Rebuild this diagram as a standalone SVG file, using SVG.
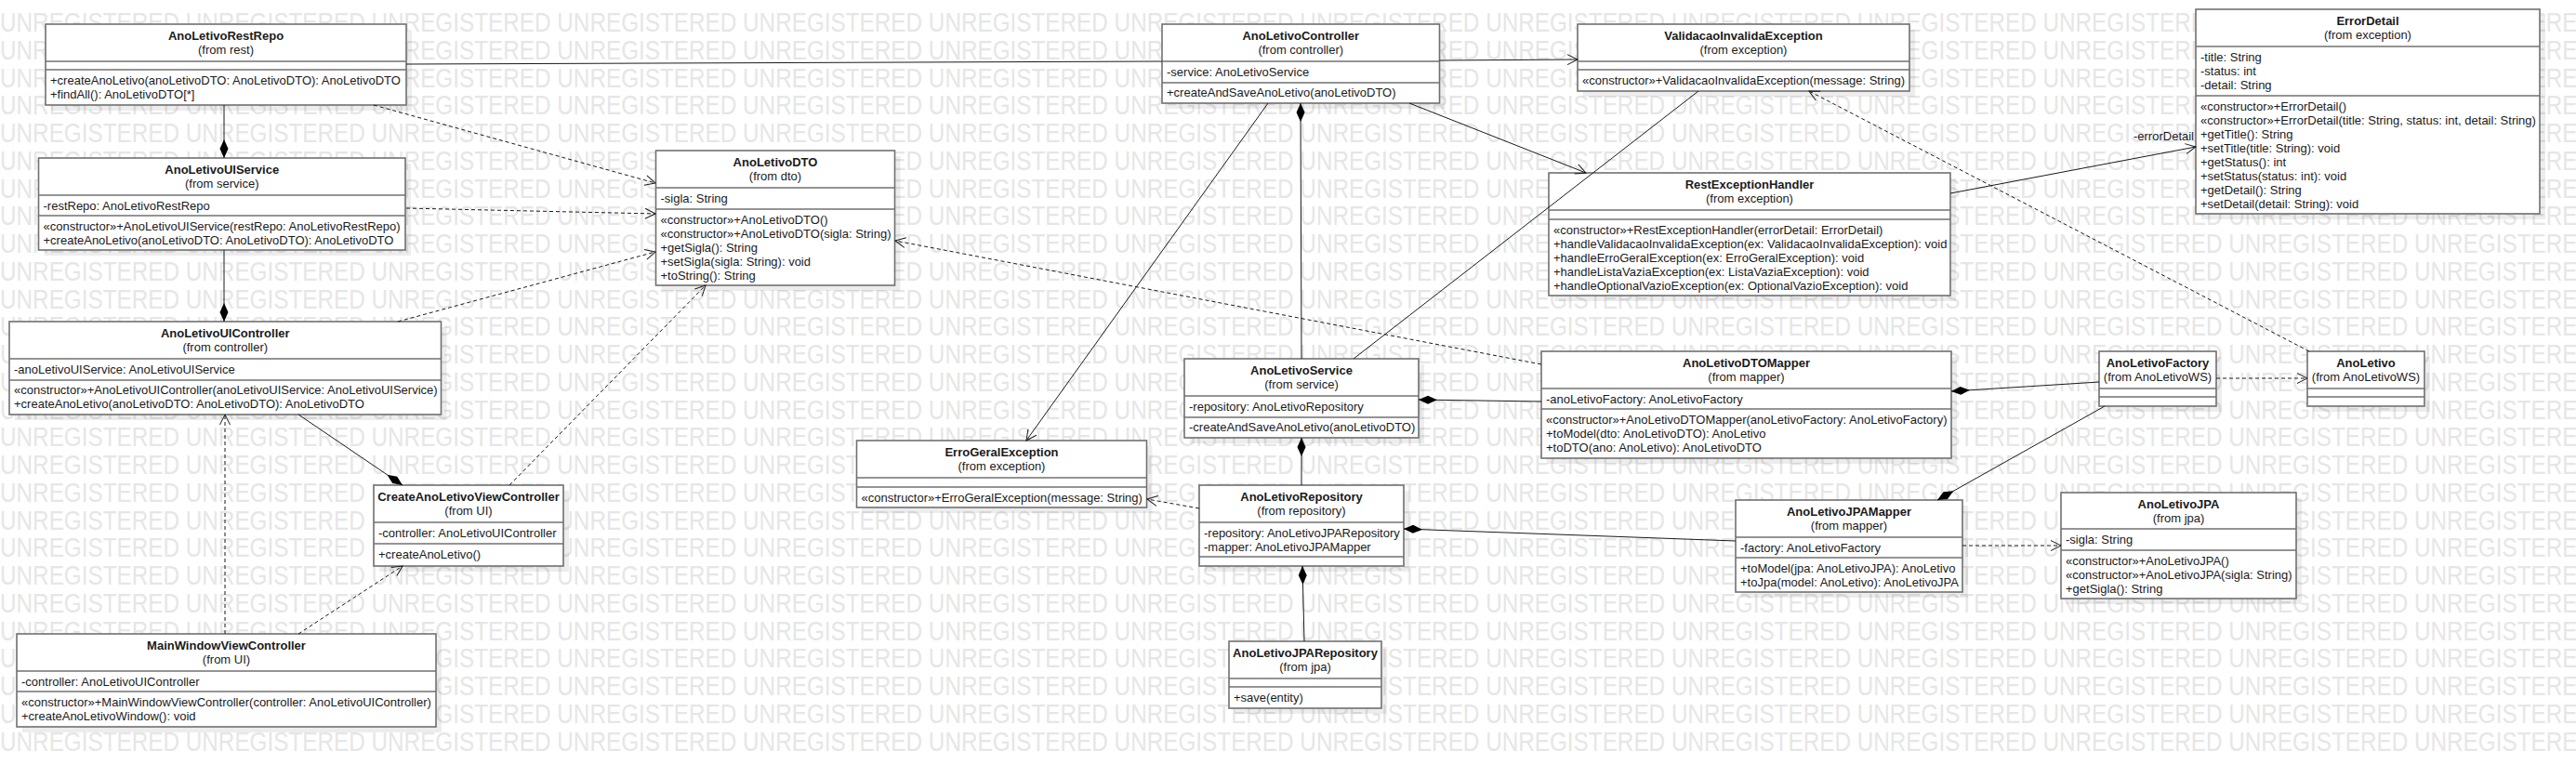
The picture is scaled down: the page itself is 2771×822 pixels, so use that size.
<svg xmlns="http://www.w3.org/2000/svg" width="2771" height="822" viewBox="0 0 2771 822">
<style>
.bg{fill:#ffffff}
.wm{font-family:"Liberation Sans",Arial,sans-serif;font-size:29px;fill:#e6e6e6}
.sh{fill:#000000;opacity:0.07}
.box{fill:#ffffff;stroke:#707070;stroke-width:1.6}
.sep{stroke:#707070;stroke-width:1.6}
.t{font-family:"Liberation Sans",Arial,sans-serif;font-size:13px;fill:#1a1a1a}
.b{font-weight:bold}
.c{text-anchor:middle}
.e{text-anchor:end}
.ln{fill:none;stroke:#1a1a1a;stroke-width:1}
.dash{stroke-dasharray:4 3}
</style>
<defs>
<marker id="arr" markerUnits="userSpaceOnUse" markerWidth="14" markerHeight="14" refX="12" refY="7" orient="auto" overflow="visible"><path d="M1,1.5 L12,7 L1,12.5" fill="none" stroke="#1a1a1a" stroke-width="1"/></marker>
<marker id="dia" markerUnits="userSpaceOnUse" markerWidth="22" markerHeight="12" refX="0" refY="5" orient="auto" overflow="visible"><path d="M0,5 L10,0.5 L20,5 L10,9.5 Z" fill="#000000"/></marker>
</defs>
<rect class="bg" x="0" y="0" width="2771" height="822"/>
<g id="watermark">
<text class="wm" x="0" y="34" textLength="2790" lengthAdjust="spacingAndGlyphs">UNREGISTERED UNREGISTERED UNREGISTERED UNREGISTERED UNREGISTERED UNREGISTERED UNREGISTERED UNREGISTERED UNREGISTERED UNREGISTERED UNREGISTERED UNREGISTERED UNREGISTERED UNREGISTERED</text>
<text class="wm" x="0" y="63.75" textLength="2790" lengthAdjust="spacingAndGlyphs">UNREGISTERED UNREGISTERED UNREGISTERED UNREGISTERED UNREGISTERED UNREGISTERED UNREGISTERED UNREGISTERED UNREGISTERED UNREGISTERED UNREGISTERED UNREGISTERED UNREGISTERED UNREGISTERED</text>
<text class="wm" x="0" y="93.5" textLength="2790" lengthAdjust="spacingAndGlyphs">UNREGISTERED UNREGISTERED UNREGISTERED UNREGISTERED UNREGISTERED UNREGISTERED UNREGISTERED UNREGISTERED UNREGISTERED UNREGISTERED UNREGISTERED UNREGISTERED UNREGISTERED UNREGISTERED</text>
<text class="wm" x="0" y="123.25" textLength="2790" lengthAdjust="spacingAndGlyphs">UNREGISTERED UNREGISTERED UNREGISTERED UNREGISTERED UNREGISTERED UNREGISTERED UNREGISTERED UNREGISTERED UNREGISTERED UNREGISTERED UNREGISTERED UNREGISTERED UNREGISTERED UNREGISTERED</text>
<text class="wm" x="0" y="153" textLength="2790" lengthAdjust="spacingAndGlyphs">UNREGISTERED UNREGISTERED UNREGISTERED UNREGISTERED UNREGISTERED UNREGISTERED UNREGISTERED UNREGISTERED UNREGISTERED UNREGISTERED UNREGISTERED UNREGISTERED UNREGISTERED UNREGISTERED</text>
<text class="wm" x="0" y="182.75" textLength="2790" lengthAdjust="spacingAndGlyphs">UNREGISTERED UNREGISTERED UNREGISTERED UNREGISTERED UNREGISTERED UNREGISTERED UNREGISTERED UNREGISTERED UNREGISTERED UNREGISTERED UNREGISTERED UNREGISTERED UNREGISTERED UNREGISTERED</text>
<text class="wm" x="0" y="212.5" textLength="2790" lengthAdjust="spacingAndGlyphs">UNREGISTERED UNREGISTERED UNREGISTERED UNREGISTERED UNREGISTERED UNREGISTERED UNREGISTERED UNREGISTERED UNREGISTERED UNREGISTERED UNREGISTERED UNREGISTERED UNREGISTERED UNREGISTERED</text>
<text class="wm" x="0" y="242.25" textLength="2790" lengthAdjust="spacingAndGlyphs">UNREGISTERED UNREGISTERED UNREGISTERED UNREGISTERED UNREGISTERED UNREGISTERED UNREGISTERED UNREGISTERED UNREGISTERED UNREGISTERED UNREGISTERED UNREGISTERED UNREGISTERED UNREGISTERED</text>
<text class="wm" x="0" y="272" textLength="2790" lengthAdjust="spacingAndGlyphs">UNREGISTERED UNREGISTERED UNREGISTERED UNREGISTERED UNREGISTERED UNREGISTERED UNREGISTERED UNREGISTERED UNREGISTERED UNREGISTERED UNREGISTERED UNREGISTERED UNREGISTERED UNREGISTERED</text>
<text class="wm" x="0" y="301.75" textLength="2790" lengthAdjust="spacingAndGlyphs">UNREGISTERED UNREGISTERED UNREGISTERED UNREGISTERED UNREGISTERED UNREGISTERED UNREGISTERED UNREGISTERED UNREGISTERED UNREGISTERED UNREGISTERED UNREGISTERED UNREGISTERED UNREGISTERED</text>
<text class="wm" x="0" y="331.5" textLength="2790" lengthAdjust="spacingAndGlyphs">UNREGISTERED UNREGISTERED UNREGISTERED UNREGISTERED UNREGISTERED UNREGISTERED UNREGISTERED UNREGISTERED UNREGISTERED UNREGISTERED UNREGISTERED UNREGISTERED UNREGISTERED UNREGISTERED</text>
<text class="wm" x="0" y="361.25" textLength="2790" lengthAdjust="spacingAndGlyphs">UNREGISTERED UNREGISTERED UNREGISTERED UNREGISTERED UNREGISTERED UNREGISTERED UNREGISTERED UNREGISTERED UNREGISTERED UNREGISTERED UNREGISTERED UNREGISTERED UNREGISTERED UNREGISTERED</text>
<text class="wm" x="0" y="391" textLength="2790" lengthAdjust="spacingAndGlyphs">UNREGISTERED UNREGISTERED UNREGISTERED UNREGISTERED UNREGISTERED UNREGISTERED UNREGISTERED UNREGISTERED UNREGISTERED UNREGISTERED UNREGISTERED UNREGISTERED UNREGISTERED UNREGISTERED</text>
<text class="wm" x="0" y="420.75" textLength="2790" lengthAdjust="spacingAndGlyphs">UNREGISTERED UNREGISTERED UNREGISTERED UNREGISTERED UNREGISTERED UNREGISTERED UNREGISTERED UNREGISTERED UNREGISTERED UNREGISTERED UNREGISTERED UNREGISTERED UNREGISTERED UNREGISTERED</text>
<text class="wm" x="0" y="450.5" textLength="2790" lengthAdjust="spacingAndGlyphs">UNREGISTERED UNREGISTERED UNREGISTERED UNREGISTERED UNREGISTERED UNREGISTERED UNREGISTERED UNREGISTERED UNREGISTERED UNREGISTERED UNREGISTERED UNREGISTERED UNREGISTERED UNREGISTERED</text>
<text class="wm" x="0" y="480.25" textLength="2790" lengthAdjust="spacingAndGlyphs">UNREGISTERED UNREGISTERED UNREGISTERED UNREGISTERED UNREGISTERED UNREGISTERED UNREGISTERED UNREGISTERED UNREGISTERED UNREGISTERED UNREGISTERED UNREGISTERED UNREGISTERED UNREGISTERED</text>
<text class="wm" x="0" y="510" textLength="2790" lengthAdjust="spacingAndGlyphs">UNREGISTERED UNREGISTERED UNREGISTERED UNREGISTERED UNREGISTERED UNREGISTERED UNREGISTERED UNREGISTERED UNREGISTERED UNREGISTERED UNREGISTERED UNREGISTERED UNREGISTERED UNREGISTERED</text>
<text class="wm" x="0" y="539.75" textLength="2790" lengthAdjust="spacingAndGlyphs">UNREGISTERED UNREGISTERED UNREGISTERED UNREGISTERED UNREGISTERED UNREGISTERED UNREGISTERED UNREGISTERED UNREGISTERED UNREGISTERED UNREGISTERED UNREGISTERED UNREGISTERED UNREGISTERED</text>
<text class="wm" x="0" y="569.5" textLength="2790" lengthAdjust="spacingAndGlyphs">UNREGISTERED UNREGISTERED UNREGISTERED UNREGISTERED UNREGISTERED UNREGISTERED UNREGISTERED UNREGISTERED UNREGISTERED UNREGISTERED UNREGISTERED UNREGISTERED UNREGISTERED UNREGISTERED</text>
<text class="wm" x="0" y="599.25" textLength="2790" lengthAdjust="spacingAndGlyphs">UNREGISTERED UNREGISTERED UNREGISTERED UNREGISTERED UNREGISTERED UNREGISTERED UNREGISTERED UNREGISTERED UNREGISTERED UNREGISTERED UNREGISTERED UNREGISTERED UNREGISTERED UNREGISTERED</text>
<text class="wm" x="0" y="629" textLength="2790" lengthAdjust="spacingAndGlyphs">UNREGISTERED UNREGISTERED UNREGISTERED UNREGISTERED UNREGISTERED UNREGISTERED UNREGISTERED UNREGISTERED UNREGISTERED UNREGISTERED UNREGISTERED UNREGISTERED UNREGISTERED UNREGISTERED</text>
<text class="wm" x="0" y="658.75" textLength="2790" lengthAdjust="spacingAndGlyphs">UNREGISTERED UNREGISTERED UNREGISTERED UNREGISTERED UNREGISTERED UNREGISTERED UNREGISTERED UNREGISTERED UNREGISTERED UNREGISTERED UNREGISTERED UNREGISTERED UNREGISTERED UNREGISTERED</text>
<text class="wm" x="0" y="688.5" textLength="2790" lengthAdjust="spacingAndGlyphs">UNREGISTERED UNREGISTERED UNREGISTERED UNREGISTERED UNREGISTERED UNREGISTERED UNREGISTERED UNREGISTERED UNREGISTERED UNREGISTERED UNREGISTERED UNREGISTERED UNREGISTERED UNREGISTERED</text>
<text class="wm" x="0" y="718.25" textLength="2790" lengthAdjust="spacingAndGlyphs">UNREGISTERED UNREGISTERED UNREGISTERED UNREGISTERED UNREGISTERED UNREGISTERED UNREGISTERED UNREGISTERED UNREGISTERED UNREGISTERED UNREGISTERED UNREGISTERED UNREGISTERED UNREGISTERED</text>
<text class="wm" x="0" y="748" textLength="2790" lengthAdjust="spacingAndGlyphs">UNREGISTERED UNREGISTERED UNREGISTERED UNREGISTERED UNREGISTERED UNREGISTERED UNREGISTERED UNREGISTERED UNREGISTERED UNREGISTERED UNREGISTERED UNREGISTERED UNREGISTERED UNREGISTERED</text>
<text class="wm" x="0" y="777.75" textLength="2790" lengthAdjust="spacingAndGlyphs">UNREGISTERED UNREGISTERED UNREGISTERED UNREGISTERED UNREGISTERED UNREGISTERED UNREGISTERED UNREGISTERED UNREGISTERED UNREGISTERED UNREGISTERED UNREGISTERED UNREGISTERED UNREGISTERED</text>
<text class="wm" x="0" y="807.5" textLength="2790" lengthAdjust="spacingAndGlyphs">UNREGISTERED UNREGISTERED UNREGISTERED UNREGISTERED UNREGISTERED UNREGISTERED UNREGISTERED UNREGISTERED UNREGISTERED UNREGISTERED UNREGISTERED UNREGISTERED UNREGISTERED UNREGISTERED</text>
</g>

<g id="AnoLetivoRestRepo">
<rect class="sh" x="55" y="32" width="388" height="87"/>
<rect class="box" x="49" y="26" width="388" height="87"/>
<line class="sep" x1="49" y1="66" x2="437" y2="66"/><line class="sep" x1="49" y1="75" x2="437" y2="75"/>
<text class="t b c" x="243" y="43">AnoLetivoRestRepo</text>
<text class="t c" x="243" y="58">(from rest)</text>
<text class="t" x="54" y="91">+createAnoLetivo(anoLetivoDTO: AnoLetivoDTO): AnoLetivoDTO</text>
<text class="t" x="54" y="106">+findAll(): AnoLetivoDTO[*]</text>
</g>

<g id="AnoLetivoUIService">
<rect class="sh" x="47.5" y="176" width="394.5" height="99"/>
<rect class="box" x="41.5" y="170" width="394.5" height="99"/>
<line class="sep" x1="41.5" y1="210" x2="436" y2="210"/><line class="sep" x1="41.5" y1="232" x2="436" y2="232"/>
<text class="t b c" x="238.75" y="187">AnoLetivoUIService</text>
<text class="t c" x="238.75" y="202">(from service)</text>
<text class="t" x="46.5" y="225.5">-restRepo: AnoLetivoRestRepo</text>
<text class="t" x="46.5" y="247.5">«constructor»+AnoLetivoUIService(restRepo: AnoLetivoRestRepo)</text>
<text class="t" x="46.5" y="262.5">+createAnoLetivo(anoLetivoDTO: AnoLetivoDTO): AnoLetivoDTO</text>
</g>

<g id="AnoLetivoUIController">
<rect class="sh" x="16" y="352" width="464.5" height="100"/>
<rect class="box" x="10" y="346" width="464.5" height="100"/>
<line class="sep" x1="10" y1="386" x2="474.5" y2="386"/><line class="sep" x1="10" y1="409" x2="474.5" y2="409"/>
<text class="t b c" x="242.25" y="363">AnoLetivoUIController</text>
<text class="t c" x="242.25" y="378">(from controller)</text>
<text class="t" x="15" y="401.5">-anoLetivoUIService: AnoLetivoUIService</text>
<text class="t" x="15" y="424">«constructor»+AnoLetivoUIController(anoLetivoUIService: AnoLetivoUIService)</text>
<text class="t" x="15" y="439">+createAnoLetivo(anoLetivoDTO: AnoLetivoDTO): AnoLetivoDTO</text>
</g>

<g id="CreateAnoLetivoViewController">
<rect class="sh" x="408" y="528" width="204" height="87"/>
<rect class="box" x="402" y="522" width="204" height="87"/>
<line class="sep" x1="402" y1="562" x2="606" y2="562"/><line class="sep" x1="402" y1="585" x2="606" y2="585"/>
<text class="t b c" x="504" y="539">CreateAnoLetivoViewController</text>
<text class="t c" x="504" y="554">(from UI)</text>
<text class="t" x="407" y="577.5">-controller: AnoLetivoUIController</text>
<text class="t" x="407" y="600.5">+createAnoLetivo()</text>
</g>

<g id="MainWindowViewController">
<rect class="sh" x="24" y="688" width="451" height="100"/>
<rect class="box" x="18" y="682" width="451" height="100"/>
<line class="sep" x1="18" y1="722" x2="469" y2="722"/><line class="sep" x1="18" y1="744" x2="469" y2="744"/>
<text class="t b c" x="243.5" y="699">MainWindowViewController</text>
<text class="t c" x="243.5" y="714">(from UI)</text>
<text class="t" x="23" y="737.5">-controller: AnoLetivoUIController</text>
<text class="t" x="23" y="759.5">«constructor»+MainWindowViewController(controller: AnoLetivoUIController)</text>
<text class="t" x="23" y="774.5">+createAnoLetivoWindow(): void</text>
</g>

<g id="AnoLetivoDTO">
<rect class="sh" x="711.5" y="168" width="257" height="145"/>
<rect class="box" x="705.5" y="162" width="257" height="145"/>
<line class="sep" x1="705.5" y1="202" x2="962.5" y2="202"/><line class="sep" x1="705.5" y1="225" x2="962.5" y2="225"/>
<text class="t b c" x="834" y="179">AnoLetivoDTO</text>
<text class="t c" x="834" y="194">(from dto)</text>
<text class="t" x="710.5" y="217.5">-sigla: String</text>
<text class="t" x="710.5" y="240.5">«constructor»+AnoLetivoDTO()</text>
<text class="t" x="710.5" y="255.5">«constructor»+AnoLetivoDTO(sigla: String)</text>
<text class="t" x="710.5" y="270.5">+getSigla(): String</text>
<text class="t" x="710.5" y="285.5">+setSigla(sigla: String): void</text>
<text class="t" x="710.5" y="300.5">+toString(): String</text>
</g>

<g id="AnoLetivoController">
<rect class="sh" x="1256" y="32" width="298.5" height="85"/>
<rect class="box" x="1250" y="26" width="298.5" height="85"/>
<line class="sep" x1="1250" y1="66" x2="1548.5" y2="66"/><line class="sep" x1="1250" y1="89" x2="1548.5" y2="89"/>
<text class="t b c" x="1399.25" y="43">AnoLetivoController</text>
<text class="t c" x="1399.25" y="58">(from controller)</text>
<text class="t" x="1255" y="81.5">-service: AnoLetivoService</text>
<text class="t" x="1255" y="104">+createAndSaveAnoLetivo(anoLetivoDTO)</text>
</g>

<g id="ValidacaoInvalidaException">
<rect class="sh" x="1703" y="32" width="357" height="72"/>
<rect class="box" x="1697" y="26" width="357" height="72"/>
<line class="sep" x1="1697" y1="66" x2="2054" y2="66"/><line class="sep" x1="1697" y1="75" x2="2054" y2="75"/>
<text class="t b c" x="1875.5" y="43">ValidacaoInvalidaException</text>
<text class="t c" x="1875.5" y="58">(from exception)</text>
<text class="t" x="1702" y="90.5">«constructor»+ValidacaoInvalidaException(message: String)</text>
</g>

<g id="ErrorDetail">
<rect class="sh" x="2368" y="16" width="370" height="220"/>
<rect class="box" x="2362" y="10" width="370" height="220"/>
<line class="sep" x1="2362" y1="50" x2="2732" y2="50"/><line class="sep" x1="2362" y1="103" x2="2732" y2="103"/>
<text class="t b c" x="2547" y="27">ErrorDetail</text>
<text class="t c" x="2547" y="42">(from exception)</text>
<text class="t" x="2367" y="65.5">-title: String</text>
<text class="t" x="2367" y="80.5">-status: int</text>
<text class="t" x="2367" y="95.5">-detail: String</text>
<text class="t" x="2367" y="118.5">«constructor»+ErrorDetail()</text>
<text class="t" x="2367" y="133.5">«constructor»+ErrorDetail(title: String, status: int, detail: String)</text>
<text class="t" x="2367" y="148.5">+getTitle(): String</text>
<text class="t" x="2367" y="163.5">+setTitle(title: String): void</text>
<text class="t" x="2367" y="178.5">+getStatus(): int</text>
<text class="t" x="2367" y="193.5">+setStatus(status: int): void</text>
<text class="t" x="2367" y="208.5">+getDetail(): String</text>
<text class="t" x="2367" y="223.5">+setDetail(detail: String): void</text>
</g>

<g id="RestExceptionHandler">
<rect class="sh" x="1672" y="192" width="432" height="132"/>
<rect class="box" x="1666" y="186" width="432" height="132"/>
<line class="sep" x1="1666" y1="226" x2="2098" y2="226"/><line class="sep" x1="1666" y1="236" x2="2098" y2="236"/>
<text class="t b c" x="1882" y="203">RestExceptionHandler</text>
<text class="t c" x="1882" y="218">(from exception)</text>
<text class="t" x="1671" y="251.5">«constructor»+RestExceptionHandler(errorDetail: ErrorDetail)</text>
<text class="t" x="1671" y="266.5">+handleValidacaoInvalidaException(ex: ValidacaoInvalidaException): void</text>
<text class="t" x="1671" y="281.5">+handleErroGeralException(ex: ErroGeralException): void</text>
<text class="t" x="1671" y="296.5">+handleListaVaziaException(ex: ListaVaziaException): void</text>
<text class="t" x="1671" y="311.5">+handleOptionalVazioException(ex: OptionalVazioException): void</text>
</g>

<g id="AnoLetivoService">
<rect class="sh" x="1280" y="392" width="252" height="85"/>
<rect class="box" x="1274" y="386" width="252" height="85"/>
<line class="sep" x1="1274" y1="426" x2="1526" y2="426"/><line class="sep" x1="1274" y1="449" x2="1526" y2="449"/>
<text class="t b c" x="1400" y="403">AnoLetivoService</text>
<text class="t c" x="1400" y="418">(from service)</text>
<text class="t" x="1279" y="441.5">-repository: AnoLetivoRepository</text>
<text class="t" x="1279" y="464">-createAndSaveAnoLetivo(anoLetivoDTO)</text>
</g>

<g id="ErroGeralException">
<rect class="sh" x="927.5" y="480" width="312" height="72"/>
<rect class="box" x="921.5" y="474" width="312" height="72"/>
<line class="sep" x1="921.5" y1="514" x2="1233.5" y2="514"/><line class="sep" x1="921.5" y1="524" x2="1233.5" y2="524"/>
<text class="t b c" x="1077.5" y="491">ErroGeralException</text>
<text class="t c" x="1077.5" y="506">(from exception)</text>
<text class="t" x="926.5" y="539.5">«constructor»+ErroGeralException(message: String)</text>
</g>

<g id="AnoLetivoRepository">
<rect class="sh" x="1296" y="528" width="220" height="87"/>
<rect class="box" x="1290" y="522" width="220" height="87"/>
<line class="sep" x1="1290" y1="562" x2="1510" y2="562"/><line class="sep" x1="1290" y1="599" x2="1510" y2="599"/>
<text class="t b c" x="1400" y="539">AnoLetivoRepository</text>
<text class="t c" x="1400" y="554">(from repository)</text>
<text class="t" x="1295" y="577.5">-repository: AnoLetivoJPARepository</text>
<text class="t" x="1295" y="592.5">-mapper: AnoLetivoJPAMapper</text>
</g>

<g id="AnoLetivoJPARepository">
<rect class="sh" x="1328" y="696" width="164" height="72"/>
<rect class="box" x="1322" y="690" width="164" height="72"/>
<line class="sep" x1="1322" y1="730" x2="1486" y2="730"/><line class="sep" x1="1322" y1="739" x2="1486" y2="739"/>
<text class="t b c" x="1404" y="707">AnoLetivoJPARepository</text>
<text class="t c" x="1404" y="722">(from jpa)</text>
<text class="t" x="1327" y="754.5">+save(entity)</text>
</g>

<g id="AnoLetivoDTOMapper">
<rect class="sh" x="1664" y="384" width="441" height="115"/>
<rect class="box" x="1658" y="378" width="441" height="115"/>
<line class="sep" x1="1658" y1="418" x2="2099" y2="418"/><line class="sep" x1="1658" y1="440" x2="2099" y2="440"/>
<text class="t b c" x="1878.5" y="395">AnoLetivoDTOMapper</text>
<text class="t c" x="1878.5" y="410">(from mapper)</text>
<text class="t" x="1663" y="433.5">-anoLetivoFactory: AnoLetivoFactory</text>
<text class="t" x="1663" y="455.5">«constructor»+AnoLetivoDTOMapper(anoLetivoFactory: AnoLetivoFactory)</text>
<text class="t" x="1663" y="470.5">+toModel(dto: AnoLetivoDTO): AnoLetivo</text>
<text class="t" x="1663" y="485.5">+toDTO(ano: AnoLetivo): AnoLetivoDTO</text>
</g>

<g id="AnoLetivoFactory">
<rect class="sh" x="2264" y="384" width="126" height="59"/>
<rect class="box" x="2258" y="378" width="126" height="59"/>
<line class="sep" x1="2258" y1="418" x2="2384" y2="418"/><line class="sep" x1="2258" y1="427" x2="2384" y2="427"/>
<text class="t b c" x="2321" y="395">AnoLetivoFactory</text>
<text class="t c" x="2321" y="410">(from AnoLetivoWS)</text>
</g>

<g id="AnoLetivo">
<rect class="sh" x="2488" y="384" width="126" height="59"/>
<rect class="box" x="2482" y="378" width="126" height="59"/>
<line class="sep" x1="2482" y1="418" x2="2608" y2="418"/><line class="sep" x1="2482" y1="427" x2="2608" y2="427"/>
<text class="t b c" x="2545" y="395">AnoLetivo</text>
<text class="t c" x="2545" y="410">(from AnoLetivoWS)</text>
</g>

<g id="AnoLetivoJPAMapper">
<rect class="sh" x="1873" y="544" width="244" height="99"/>
<rect class="box" x="1867" y="538" width="244" height="99"/>
<line class="sep" x1="1867" y1="578" x2="2111" y2="578"/><line class="sep" x1="1867" y1="600" x2="2111" y2="600"/>
<text class="t b c" x="1989" y="555">AnoLetivoJPAMapper</text>
<text class="t c" x="1989" y="570">(from mapper)</text>
<text class="t" x="1872" y="593.5">-factory: AnoLetivoFactory</text>
<text class="t" x="1872" y="615.5">+toModel(jpa: AnoLetivoJPA): AnoLetivo</text>
<text class="t" x="1872" y="630.5">+toJpa(model: AnoLetivo): AnoLetivoJPA</text>
</g>

<g id="AnoLetivoJPA">
<rect class="sh" x="2223" y="536" width="253" height="114"/>
<rect class="box" x="2217" y="530" width="253" height="114"/>
<line class="sep" x1="2217" y1="569" x2="2470" y2="569"/><line class="sep" x1="2217" y1="592" x2="2470" y2="592"/>
<text class="t b c" x="2343.5" y="547">AnoLetivoJPA</text>
<text class="t c" x="2343.5" y="562">(from jpa)</text>
<text class="t" x="2222" y="584.5">-sigla: String</text>
<text class="t" x="2222" y="607.5">«constructor»+AnoLetivoJPA()</text>
<text class="t" x="2222" y="622.5">«constructor»+AnoLetivoJPA(sigla: String)</text>
<text class="t" x="2222" y="637.5">+getSigla(): String</text>
</g>

<g id="connectors">
<path class="ln" d="M437,69 L1250,66"/>
<path class="ln" d="M1548.5,65 L1697,64" marker-end="url(#arr)"/>
<path class="ln" d="M1516,111 L1706,186" marker-end="url(#arr)"/>
<path class="ln" d="M1364,111 L1104,474" marker-end="url(#arr)"/>
<path class="ln" d="M1399,111 L1400,386" marker-start="url(#dia)"/>
<path class="ln" d="M1827,98 L1456,386"/>
<path class="ln dash" d="M2484,378 L1946,98" marker-end="url(#arr)"/>
<path class="ln" d="M2098,208 L2362,158" marker-end="url(#arr)"/>
<text class="t e" x="2360" y="151">-errorDetail</text>
<path class="ln" d="M241,170 L241,113" marker-start="url(#dia)"/>
<path class="ln" d="M241,346 L241,269" marker-start="url(#dia)"/>
<path class="ln" d="M433,522 L321,446" marker-start="url(#dia)"/>
<path class="ln dash" d="M242,682 L242,446" marker-end="url(#arr)"/>
<path class="ln dash" d="M321,682 L433,609" marker-end="url(#arr)"/>
<path class="ln dash" d="M402,113 L705,197" marker-end="url(#arr)"/>
<path class="ln dash" d="M437,224 L705,230" marker-end="url(#arr)"/>
<path class="ln dash" d="M428,346 L705,271" marker-end="url(#arr)"/>
<path class="ln dash" d="M548,522 L759,307" marker-end="url(#arr)"/>
<path class="ln dash" d="M1658,392 L963,259" marker-end="url(#arr)"/>
<path class="ln" d="M1526,430 L1658,432" marker-start="url(#dia)"/>
<path class="ln" d="M1400,471 L1400,522" marker-start="url(#dia)"/>
<path class="ln dash" d="M1290,547 L1234,537" marker-end="url(#arr)"/>
<path class="ln" d="M1510,569 L1867,582" marker-start="url(#dia)"/>
<path class="ln" d="M1401,609 L1403,690" marker-start="url(#dia)"/>
<path class="ln" d="M2099,421 L2258,411" marker-start="url(#dia)"/>
<path class="ln" d="M2084,538 L2264,437" marker-start="url(#dia)"/>
<path class="ln dash" d="M2384,407 L2482,407" marker-end="url(#arr)"/>
<path class="ln dash" d="M2111,587 L2217,587" marker-end="url(#arr)"/>
</g>
</svg>
